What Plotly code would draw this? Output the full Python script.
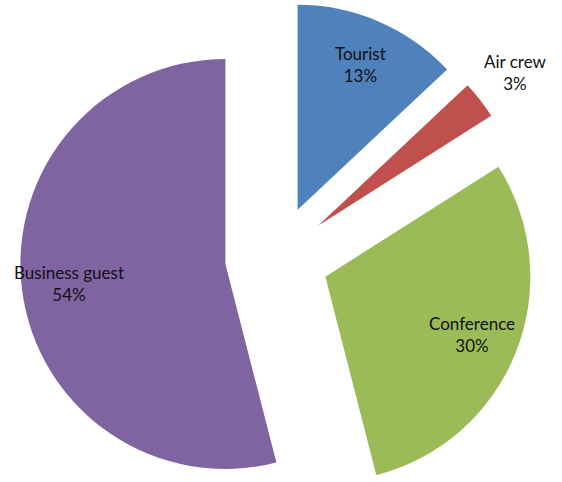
import math
import plotly.graph_objects as go

# Data
labels = ["Tourist", "Air crew", "Conference", "Business guest"]
values = [13, 3, 30, 54]
colors = ["#4F81BD", "#C0504D", "#9BBB59", "#8064A2"]
label_outside = [False, True, False, False]

# Layout geometry (pixels)
W, H = 562, 482
CX, CY = 277, 257.5    # pie centre before explosion
R = 205                # slice radius
PULL = 52              # explosion distance
K_IN, K_OUT = 0.77, 1.22   # label radius factors

fig = go.Figure()
annotations = []
total = sum(values)
cum = 0
for i, (lab, v) in enumerate(zip(labels, values)):
    mid = (cum + v / 2) / total * 2 * math.pi
    cum += v
    dx, dy = math.sin(mid), -math.cos(mid)
    cx = CX + PULL * dx
    cy = CY + PULL * dy
    x0, x1 = (cx - R) / W, (cx + R) / W
    y0, y1 = (H - (cy + R)) / H, (H - (cy - R)) / H
    cols = [c if j == i else "rgba(0,0,0,0)" for j, c in enumerate(colors)]
    fig.add_trace(go.Pie(
        labels=labels, values=values, sort=False, direction="clockwise",
        rotation=0, marker=dict(colors=cols, line=dict(width=0)),
        textinfo="none",
        domain=dict(x=[max(0, x0), min(1, x1)], y=[max(0, y0), min(1, y1)]),
        hoverinfo="skip", showlegend=False, automargin=False,
    ))
    k = K_OUT if label_outside[i] else K_IN
    lx = cx + k * R * dx
    ly = cy + k * R * dy
    pct = round(v / total * 100)
    annotations.append(dict(
        x=lx / W, y=1 - ly / H, xref="paper", yref="paper",
        text=f"{lab}<br>{pct}%", showarrow=False,
        xanchor="center", yanchor="middle", align="center",
        font=dict(family="Lato", size=17, color="#111111"),
    ))

fig.update_layout(
    width=W, height=H, margin=dict(l=0, r=0, t=0, b=0),
    paper_bgcolor="white", plot_bgcolor="white", showlegend=False,
    annotations=annotations,
)
fig.write_html("out.html")
